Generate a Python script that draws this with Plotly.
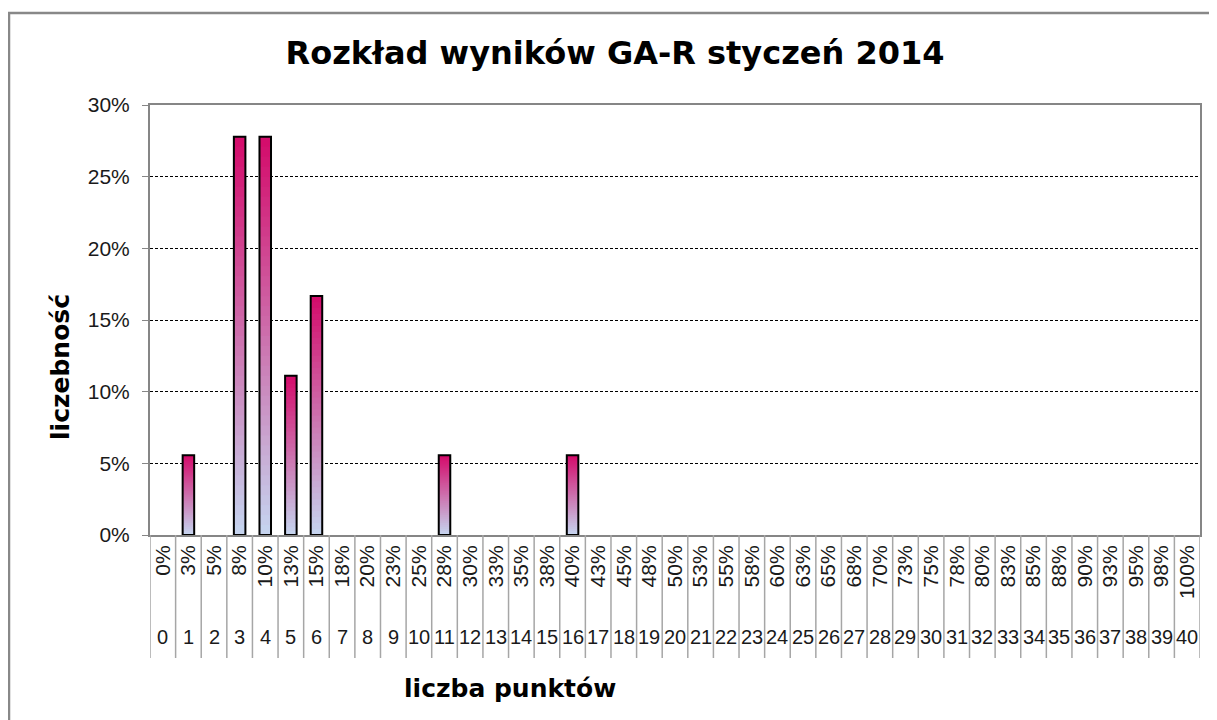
import plotly.graph_objects as go

# ---- data ----
points = list(range(41))
pct_labels = ["0%", "3%", "5%", "8%", "10%", "13%", "15%", "18%", "20%", "23%",
              "25%", "28%", "30%", "33%", "35%", "38%", "40%", "43%", "45%", "48%",
              "50%", "53%", "55%", "58%", "60%", "63%", "65%", "68%", "70%", "73%",
              "75%", "78%", "80%", "83%", "85%", "88%", "90%", "93%", "95%", "98%", "100%"]
freq = [0, 0.0556, 0, 0.2778, 0.2778, 0.1111, 0.1667, 0, 0, 0,
        0, 0.0556, 0, 0, 0, 0, 0.0556, 0, 0, 0,
        0, 0, 0, 0, 0, 0, 0, 0, 0, 0,
        0, 0, 0, 0, 0, 0, 0, 0, 0, 0, 0]

title = "Rozkład wyników GA-R styczeń 2014"
x_title = "liczba punktów"
y_title = "liczebność"

# ---- style ----
TOP = (212, 10, 106)
BOT = (197, 214, 240)
NSEG = 40
BAR_W = 0.45

OFF = 8  # default page body margin
W, H = 1217, 720
ML, MR, MT, MB = 150, 17, 105, 185
PH = H - MT - MB
PW = W - ML - MR


def py(ypix):
    """page pixel y -> paper y"""
    return (MT + PH - ypix) / PH


def px(xpix):
    return (xpix - ML) / PW


fig = go.Figure()

# gradient bars: stacked slices per level (each slice overlaps the next to avoid seams)
for k in range(NSEG):
    t = (k + 0.5) / NSEG  # 0 bottom, 1 top
    c = tuple(round(BOT[i] + (TOP[i] - BOT[i]) * t) for i in range(3))
    fig.add_trace(go.Bar(
        x=points,
        y=[min(2 * v / NSEG, v - v * k / NSEG) for v in freq],
        base=[v * k / NSEG for v in freq],
        width=BAR_W,
        marker=dict(color="rgb(%d,%d,%d)" % c, line=dict(width=0)),
        hoverinfo="skip", showlegend=False,
    ))

# outline
fig.add_trace(go.Bar(
    x=points,
    y=[v if v > 0 else None for v in freq],
    width=BAR_W,
    marker=dict(color="rgba(0,0,0,0)", line=dict(color="black", width=2)),
    showlegend=False,
))

# category numbers below the rotated percent labels
for p in points:
    fig.add_annotation(x=p, y=py(637), xref="x", yref="paper",
                       text=str(p), showarrow=False,
                       font=dict(family="Liberation Sans, Arial", size=20, color="#1a1a1a"),
                       xanchor="center", yanchor="middle")

# axis titles
fig.add_annotation(x=px(510), y=py(688), xref="paper", yref="paper",
                   text="<b>" + x_title + "</b>", showarrow=False,
                   font=dict(family="DejaVu Sans", size=25, color="black"),
                   xanchor="center", yanchor="middle")
fig.add_annotation(x=px(60), y=py(367), xref="paper", yref="paper",
                   text="<b>" + y_title + "</b>", showarrow=False, textangle=-90,
                   font=dict(family="DejaVu Sans", size=25, color="black"),
                   xanchor="center", yanchor="middle")

# category separators
shapes = []
for p in points + [41]:
    shapes.append(dict(type="line", xref="x", yref="paper",
                       x0=p - 0.5, x1=p - 0.5, y0=0, y1=py(658),
                       line=dict(color="#a6a6a6", width=1.5)))
# outer chart border
shapes.append(dict(type="rect", xref="paper", yref="paper",
                   x0=px(9), x1=px(W + 10), y0=py(H + 10), y1=py(13),
                   line=dict(color="#888888", width=2.5), fillcolor="rgba(0,0,0,0)", layer="below"))

fig.update_layout(
    width=W - OFF, height=H - OFF,
    margin=dict(l=ML - OFF, r=MR, t=MT - OFF, b=MB, autoexpand=False),
    paper_bgcolor="white", plot_bgcolor="white",
    barmode="overlay",
    shapes=shapes,
    title=dict(text="<b>" + title + "</b>", x=(615 - OFF) / (W - OFF), xanchor="center",
               y=1 - (53 - OFF) / (H - OFF), yanchor="middle",
               font=dict(family="DejaVu Sans", size=32, color="black")),
    xaxis=dict(
        range=[-0.5, 40.5], tickmode="array", tickvals=points, ticktext=pct_labels,
        tickangle=-90, ticks="", showgrid=False,
        tickfont=dict(family="Liberation Sans, Arial", size=21, color="#1a1a1a"),
        showline=True, linecolor="#868686", linewidth=2, mirror=True,
        fixedrange=True,
    ),
    yaxis=dict(
        range=[0, 0.30], tickmode="array", tickvals=[0, 0.05, 0.10, 0.15, 0.20, 0.25, 0.30],
        tickformat=".0%", ticks="outside", ticklen=6, tickcolor="#868686",
        ticklabelstandoff=8,
        tickfont=dict(family="Liberation Sans, Arial", size=21, color="#1a1a1a"),
        showgrid=True, gridcolor="black", gridwidth=1, griddash="3px,2px",
        showline=True, linecolor="#868686", linewidth=2, mirror=True,
        zeroline=False, fixedrange=True,
    ),
)

fig.write_html("out.html")
